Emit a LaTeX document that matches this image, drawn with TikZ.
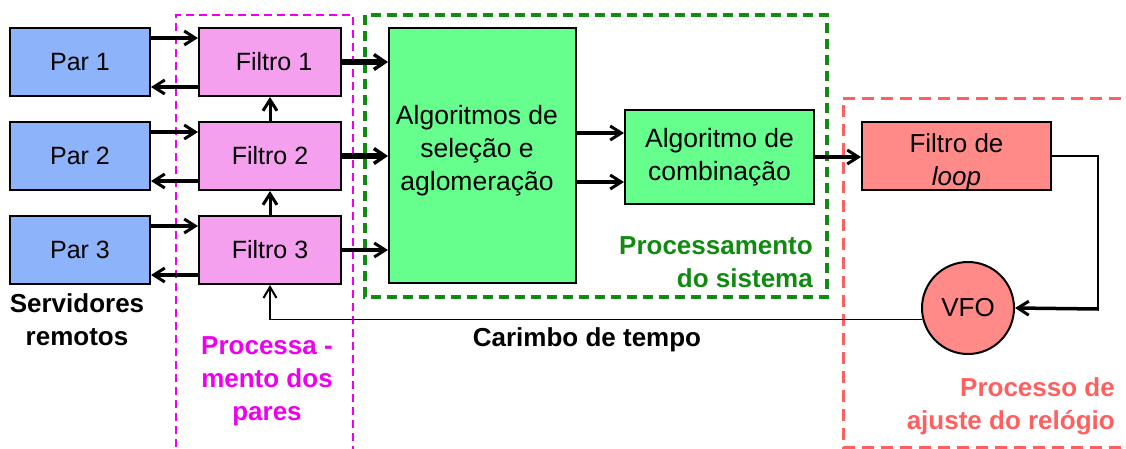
\documentclass[tikz,border=0pt]{standalone}
\usepackage{fontspec}
\setmainfont{Liberation Sans}
\usetikzlibrary{arrows.meta}
\definecolor{parblue}{HTML}{8DB4FB}
\definecolor{filpink}{HTML}{F5A0EF}
\definecolor{algreen}{HTML}{66FF8E}
\definecolor{redfill}{HTML}{FF8A88}
\definecolor{magen}{HTML}{EE00EE}
\definecolor{dgreen}{HTML}{108A10}
\definecolor{redd}{HTML}{FF5F5F}
\begin{document}
\begin{tikzpicture}[x=1pt,y=-1pt,
  txt/.style={inner sep=0pt, align=center, font=\fontsize{26}{33}\selectfont},
  box/.style={txt, draw=black, line width=2pt},
  parbox/.style={box, font=\fontsize{25}{33}\selectfont, fill=parblue, minimum width=140pt, minimum height=68pt},
  filbox/.style={box, font=\fontsize{25}{33}\selectfont, fill=filpink, minimum width=142pt, minimum height=68pt},
  greenbox/.style={box, fill=algreen},
  redbox/.style={box, fill=redfill},
  lab/.style={inner sep=0pt, font=\fontsize{26}{33}\selectfont\bfseries},
  arr/.style={line width=3.5pt, -{Straight Barb[length=11pt,width=14pt,line width=3pt]}},
  arrthick/.style={line width=5.5pt, -{Straight Barb[length=11pt,width=15pt,line width=3.5pt]}},
  thinl/.style={line width=1.6pt}
]
\useasboundingbox (0,0) rectangle (1126,448);

% group boxes
\draw[magen, line width=2pt, dash pattern=on 8pt off 5pt] (176,460) -- (176,15) -- (353,15) -- (353,460);
\draw[dgreen, line width=4pt, dash pattern=on 10pt off 6pt] (365,15) rectangle (827,297);
\draw[redd, line width=3pt, dash pattern=on 12pt off 7pt] (1140,98) -- (843,98) -- (843,447) -- (1140,447);

% nodes
\node[parbox] (p1) at (80,62) {Par 1};
\node[parbox] (p2) at (80,156) {Par 2};
\node[parbox] (p3) at (80,250) {Par 3};
\node[filbox] (f1) at (270,62) {\hspace{8pt}Filtro 1};
\node[filbox] (f2) at (270,156) {Filtro 2};
\node[filbox] (f3) at (270,250) {Filtro 3};
\node[greenbox, minimum width=187pt, minimum height=255pt] (algo) at (482.5,155.5) {};
\node[txt, font=\fontsize{26.5}{33}\selectfont] (algot) at (477,151) {Algoritmos de\\seleção e\\aglomeração};
\node[greenbox, font=\fontsize{26.5}{33}\selectfont, minimum width=189pt, minimum height=94pt] (comb) at (719.5,157) {Algoritmo de\\combinação};
\node[redbox, minimum width=189pt, minimum height=68pt] (loop) at (956.5,156) {};
\node[txt] (loopt) at (956.5,162) {Filtro de\\\textit{loop}};
\node[redbox, circle, minimum size=92pt] (vfo) at (968,308) {VFO};

% labels
\node[lab, align=center] (servl) at (77,320) {Servidores\\remotos};
\node[lab, align=center, text=magen] (parl) at (267,381) {Processa -\\mento dos\\pares};
\node[lab] (carl) at (587,340) {Carimbo de tempo};
\node[lab, align=right, anchor=east, text=dgreen] (sisl) at (813,262) {Processamento\\do sistema};
\node[lab, align=right, anchor=east, text=redd] (relol) at (1115,406) {Processo de\\ajuste do relógio};

% Par <-> Filtro
\foreach \i in {1,2,3}{
  \draw[arr] ([yshift=-11pt]p\i.north east) -- ([yshift=-11pt]f\i.north west);
  \draw[arr] ([yshift=10pt]f\i.south west) -- ([yshift=10pt]p\i.south east);
}
% vertical filter arrows
\draw[arr, line width=3pt] (f2.north) -- (f1.south);
\draw[arr, line width=3pt] (f3.north) -- (f2.south);

% Filtro -> Algo
\draw[arrthick] (f1.east) -- (f1.east -| algo.west);
\draw[arrthick] (f2.east) -- (f2.east -| algo.west);
\draw[arr] (f3.east) -- (f3.east -| algo.west);

% Algo -> Comb
\coordinate (ca) at ([yshift=-24pt]comb.north west);
\coordinate (cb) at ([yshift=23pt]comb.south west);
\draw[arr] (ca -| algo.east) -- (ca);
\draw[arr] (cb -| algo.east) -- (cb);

% Comb -> loop
\draw[arr, line width=4.5pt] (comb.east) -- (comb.east -| loop.west);

% loop -> VFO
\coordinate (lc) at (1098,309);
\draw[thinl] (loop.east) -| (lc);
\draw[arr] ([xshift=0.8pt]lc) -- (vfo.east);

% VFO -> Filtro 3 (timestamp)
\draw[thinl, -{Straight Barb[length=11pt,width=13pt,line width=2pt]}] (vfo.194) -| (f3.south);
\end{tikzpicture}
\end{document}
